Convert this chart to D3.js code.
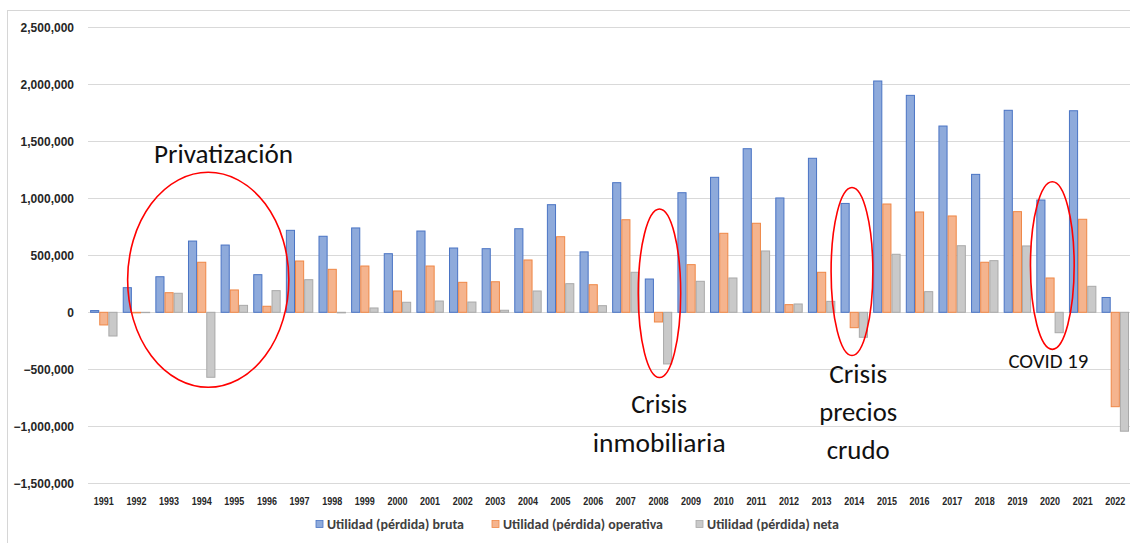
<!DOCTYPE html>
<html>
<head>
<meta charset="utf-8">
<script src="https://cdn.jsdelivr.net/npm/d3@7"></script>
<style>
  html, body { margin: 0; padding: 0; background: #ffffff; }
  svg { display: block; }
</style>
</head>
<body>
<svg id="chart" width="1130" height="543"></svg>
<script>
// ---- Data ----
const years = ["1991","1992","1993","1994","1995","1996","1997","1998","1999","2000","2001","2002","2003","2004","2005","2006","2007","2008","2009","2010","2011","2012","2013","2014","2015","2016","2017","2018","2019","2020","2021","2022"];
const seriesNames = ["Utilidad (pérdida) bruta", "Utilidad (pérdida) operativa", "Utilidad (pérdida) neta"];
const bruta = [15000, 216000, 312000, 625000, 590000, 330000, 719000, 667000, 740000, 514000, 713000, 564000, 558000, 733000, 944000, 530000, 1137000, 292000, 1049000, 1184000, 1435000, 1003000, 1351000, 955000, 2029000, 1903000, 1634000, 1210000, 1772000, 985000, 1768000, 130000];
const operativa = [-111000, -5000, 172000, 439000, 196000, 53000, 450000, 377000, 406000, 187000, 406000, 263000, 268000, 459000, 663000, 242000, 812000, -85000, 418000, 693000, 781000, 67000, 351000, -135000, 950000, 880000, 845000, 439000, 883000, 301000, 816000, -828000];
const neta = [-208000, -3000, 167000, -570000, 61000, 190000, 286000, -5000, 38000, 88000, 99000, 90000, 18000, 187000, 251000, 58000, 351000, -453000, 272000, 301000, 538000, 73000, 96000, -219000, 509000, 181000, 584000, 453000, 582000, -179000, 228000, -1043000];
const yTicks = [-1500000, -1000000, -500000, 0, 500000, 1000000, 1500000, 2000000, 2500000];

// annotation ellipses: centre (fractional category index, value), radii (bands, value)
const ellipses = [
  { ci: 3.20, cv: 285000, rb: 2.47, rv: 943000 },
  { ci: 17.03, cv: 167000, rb: 0.65, rv: 739000 },
  { ci: 22.93, cv: 358000, rb: 0.64, rv: 737000 },
  { ci: 29.07, cv: 410000, rb: 0.67, rv: 735000 }
];
// annotation texts: centre index, baseline value
const notes = [
  { text: "Privatización", ci: 3.67, v: 1312000, size: 27, w: 139 },
  { text: "Crisis", ci: 17.02, v: -886000, size: 27, w: 56 },
  { text: "inmobiliaria", ci: 17.02, v: -1223000, size: 27, w: 133 },
  { text: "Crisis", ci: 23.12, v: -623000, size: 27, w: 58 },
  { text: "precios", ci: 23.12, v: -954000, size: 27, w: 78 },
  { text: "crudo", ci: 23.12, v: -1289000, size: 27, w: 63 },
  { text: "COVID 19", ci: 28.95, v: -491000, size: 20, w: 80 }
];

const fills = ["#8eaadb", "#f5b48e", "#c9c9c9"];
const strokes = ["#4a74c4", "#ef8746", "#a9a9a9"];

const svg = d3.select("#chart");
const W = 1130, H = 543;

// frame border (chart area outline, cropped at right/bottom)
svg.append("rect").attr("x", 7.5).attr("y", 10.5).attr("width", 1200).attr("height", 600)
  .attr("fill", "none").attr("stroke", "#d6d6d6").attr("stroke-width", 1);

const y = d3.scaleLinear().domain([-1500000, 2500000]).range([483.3, 27.3]);
const x0 = d3.scaleBand().domain(years).range([87.5, 1131.6]).paddingInner(0).paddingOuter(0);
const step = x0.step();
const x1 = d3.scaleBand().domain(seriesNames).range([2.6, step - 2.6]).padding(0);

// gridlines
svg.append("g").selectAll("line").data(yTicks).join("line")
  .attr("x1", 88).attr("x2", W)
  .attr("y1", d => Math.round(y(d)) + 0.5).attr("y2", d => Math.round(y(d)) + 0.5)
  .attr("stroke", "#d9d9d9").attr("stroke-width", 1.2);

// y axis labels
const fmt = d3.format(",");
const yAxis = d3.axisLeft(y).tickValues(yTicks).tickSize(0).tickPadding(0).tickFormat(d => fmt(d));
const gy = svg.append("g").attr("transform", "translate(74,0)").call(yAxis);
gy.select(".domain").remove();
gy.selectAll("text").attr("font-family", "Liberation Sans, Arial, sans-serif")
  .attr("font-weight", "bold").attr("font-size", 12).attr("fill", "#262626");

// bars
const table = years.map((yr, i) => ({ year: yr, vals: [bruta[i], operativa[i], neta[i]] }));
const groups = svg.append("g").selectAll("g").data(table).join("g")
  .attr("transform", d => `translate(${x0(d.year)},0)`);
groups.selectAll("rect").data(d => d.vals.map((v, k) => ({ v, k })))
  .join("rect")
  .attr("x", d => x1(seriesNames[d.k]) + 0.5)
  .attr("width", x1.bandwidth() - 1)
  .attr("y", d => y(Math.max(0, d.v)))
  .attr("height", d => Math.abs(y(d.v) - y(0)))
  .attr("fill", d => fills[d.k])
  .attr("stroke", d => strokes[d.k])
  .attr("stroke-width", 1);

// x axis labels
const xAxis = d3.axisBottom(x0).tickSize(0).tickPadding(0);
const gx = svg.append("g").attr("transform", "translate(0,497)").call(xAxis);
gx.select(".domain").remove();
gx.selectAll("text").attr("font-family", "Liberation Sans Narrow, Liberation Sans, Arial, sans-serif")
  .attr("font-weight", "bold").attr("font-size", 11).attr("fill", "#262626")
  .attr("textLength", 20).attr("lengthAdjust", "spacingAndGlyphs");

// ellipses
const xi = i => x0.range()[0] + step * (i + 0.5);
svg.append("g").selectAll("ellipse").data(ellipses).join("ellipse")
  .attr("cx", d => xi(d.ci)).attr("cy", d => y(d.cv))
  .attr("rx", d => d.rb * step).attr("ry", d => y(0) - y(d.rv))
  .attr("fill", "none").attr("stroke", "#ff0000").attr("stroke-width", 1.6);

// annotation texts
svg.append("g").selectAll("text").data(notes).join("text")
  .attr("x", d => xi(d.ci)).attr("y", d => y(d.v))
  .attr("text-anchor", "middle")
  .attr("font-family", "Carlito, Lato, 'Open Sans', sans-serif")
  .attr("font-size", d => d.size).attr("fill", "#111")
  .attr("textLength", d => d.w).attr("lengthAdjust", "spacingAndGlyphs")
  .text(d => d.text);

// legend
const legendX = [316, 492, 696];
const legendW = [137, 160, 132];
const lg = svg.append("g").selectAll("g").data(seriesNames).join("g")
  .attr("transform", (d, i) => `translate(${legendX[i]},524)`);
lg.append("rect").attr("x", 0).attr("y", -3.5).attr("width", 7).attr("height", 7)
  .attr("fill", (d, i) => fills[i]).attr("stroke", (d, i) => strokes[i]).attr("stroke-width", 0.8);
lg.append("text").attr("x", 11).attr("y", 0).attr("dy", "0.35em")
  .attr("font-family", "Carlito, Lato, 'Liberation Sans', sans-serif")
  .attr("font-weight", "bold").attr("font-size", 13).attr("fill", "#404040")
  .attr("textLength", (d, i) => legendW[i]).attr("lengthAdjust", "spacingAndGlyphs")
  .text(d => d);
</script>
</body>
</html>
